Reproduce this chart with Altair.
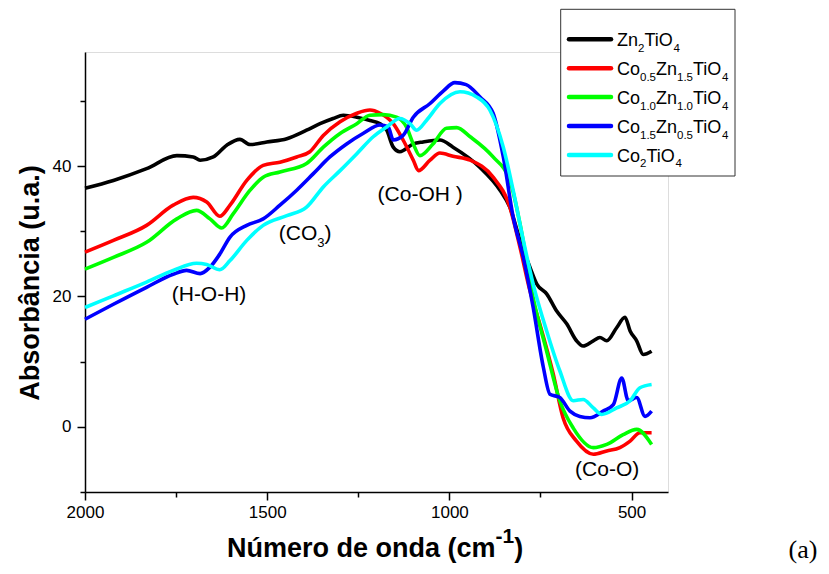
import altair as alt
import pandas as pd

# ---------------- data ----------------
series_names = ["Zn2TiO4", "Co0.5Zn1.5TiO4", "Co1.0Zn1.0TiO4", "Co1.5Zn0.5TiO4", "Co2TiO4"]
series_colors = ["#000000", "#ff0000", "#00ff00", "#0000ff", "#00ffff"]

zn2_wn = [2000, 1922, 1831, 1748, 1703, 1684, 1648, 1611, 1575, 1547, 1501, 1446, 1392, 1355, 1319, 1291,
          1254, 1218, 1190, 1172, 1154, 1136, 1099, 1072, 1026, 990, 916, 861, 834, 806, 779, 760, 733, 706,
          678, 651, 633, 605, 587, 568, 541, 518, 504, 486, 468, 445]
zn2_abs = [36.6, 37.8, 39.6, 41.6, 41.4, 40.9, 41.4, 43.2, 44.1, 43.3, 43.7, 44.2, 45.5, 46.5, 47.3, 47.8,
           47.5, 47.0, 46.5, 45.5, 42.9, 42.2, 43.4, 43.7, 44.0, 42.9, 39.8, 36.3, 33.7, 28.6, 24.5, 21.9,
           20.4, 17.8, 15.8, 13.2, 12.4, 13.2, 13.7, 13.2, 15.2, 16.8, 14.7, 13.2, 11.1, 11.6]

co05_wn = [2000, 1922, 1831, 1758, 1703, 1666, 1630, 1602, 1556, 1511, 1465, 1419, 1383, 1346, 1300, 1254,
           1218, 1190, 1154, 1127, 1099, 1085, 1053, 1026, 990, 943, 880, 834, 806, 779, 752, 715, 688, 651,
           605, 568, 532, 504, 477, 445]
co05_abs = [26.8, 28.6, 30.9, 34.0, 35.2, 34.5, 32.3, 34.0, 37.8, 40.1, 40.6, 41.4, 42.2, 44.7, 46.8, 48.1,
            48.6, 48.1, 46.5, 44.0, 40.9, 39.3, 40.9, 42.0, 41.5, 40.9, 38.3, 33.7, 27.5, 20.9, 15.8, 8.1,
            1.4, -2.2, -4.2, -3.7, -3.2, -2.2, -0.9, -0.9]

co10_wn = [2000, 1922, 1831, 1748, 1694, 1657, 1625, 1593, 1547, 1511, 1465, 1392, 1346, 1300, 1254, 1218,
           1182, 1145, 1118, 1099, 1081, 1045, 1008, 980, 943, 880, 834, 806, 770, 733, 697, 660, 605, 568,
           523, 486, 445]
co10_abs = [24.2, 26.0, 28.3, 31.9, 33.2, 31.9, 30.5, 32.7, 36.3, 38.3, 39.1, 40.4, 42.9, 45.0, 46.5, 47.8,
            47.9, 47.5, 46.0, 43.4, 41.6, 43.4, 45.8, 45.9, 44.5, 41.4, 37.8, 31.1, 19.8, 11.6, 4.0, -0.2,
            -3.2, -2.7, -1.2, -0.4, -2.7]

co15_wn = [2000, 1922, 1831, 1758, 1721, 1684, 1657, 1630, 1602, 1556, 1511, 1465, 1419, 1374, 1328, 1282,
           1237, 1190, 1168, 1154, 1127, 1099, 1053, 1017, 985, 954, 916, 880, 852, 825, 797, 770, 742, 724,
           697, 669, 642, 614, 578, 550, 527, 509, 486, 463, 445]
co15_abs = [16.5, 18.8, 21.4, 23.4, 24.0, 23.5, 24.5, 26.5, 29.1, 30.9, 31.9, 34.0, 36.3, 38.8, 41.4, 43.4,
            45.0, 46.3, 46.0, 44.0, 44.7, 47.5, 49.6, 51.5, 52.8, 52.5, 50.6, 48.1, 41.4, 32.2, 26.0, 18.3,
            9.1, 5.0, 4.5, 2.4, 1.6, 1.4, 2.4, 3.4, 7.5, 4.0, 4.5, 1.6, 2.4]

co2_wn = [2000, 1922, 1831, 1758, 1694, 1666, 1630, 1602, 1556, 1511, 1446, 1392, 1346, 1300, 1254, 1209,
          1172, 1136, 1108, 1090, 1063, 1026, 971, 925, 889, 852, 825, 797, 770, 733, 697, 660, 633, 605,
          582, 541, 504, 477, 445]
co2_abs = [18.3, 20.1, 22.2, 24.0, 25.1, 24.9, 24.1, 25.5, 28.6, 30.9, 32.4, 33.7, 36.8, 39.3, 41.9, 44.5,
           46.0, 47.3, 46.5, 45.5, 47.0, 49.6, 51.4, 50.6, 48.6, 42.9, 36.3, 28.6, 21.9, 14.7, 8.6, 4.0,
           4.2, 2.9, 1.9, 2.9, 4.0, 6.0, 6.5]

series_wn = [zn2_wn, co05_wn, co10_wn, co15_wn, co2_wn]
series_abs = [zn2_abs, co05_abs, co10_abs, co15_abs, co2_abs]

# legend labels split into (text, is_subscript)
legend_parts = [
    [("Zn", 0), ("2", 1), ("TiO", 0), ("4", 1)],
    [("Co", 0), ("0.5", 1), ("Zn", 0), ("1.5", 1), ("TiO", 0), ("4", 1)],
    [("Co", 0), ("1.0", 1), ("Zn", 0), ("1.0", 1), ("TiO", 0), ("4", 1)],
    [("Co", 0), ("1.5", 1), ("Zn", 0), ("0.5", 1), ("TiO", 0), ("4", 1)],
    [("Co", 0), ("2", 1), ("TiO", 0), ("4", 1)],
]

# band annotations: (wavenumber, absorbance at baseline, parts)
annotations = [
    (1762, 19.3, [("(H-O-H)", 0)]),
    (1468, 28.6, [("(CO", 0), ("3", 1), (")", 0)]),
    (1197, 34.7, [("(Co-OH )", 0)]),
    (655, -7.6, [("(Co-O)", 0)]),
]

x_ticks = [2000, 1750, 1500, 1250, 1000, 750, 500]
y_ticks = [-10, 0, 10, 20, 30, 40, 50]

# ---------------- layout ----------------
W, H = 583, 440
FONT = "Liberation Sans"

ARIAL = {'C': 722, 'o': 556, 'Z': 611, 'n': 556, 'T': 611, 'i': 222, 'O': 778, '.': 278,
         '(': 333, ')': 333, '-': 333, 'H': 722, ' ': 278}
for d in "0123456789":
    ARIAL[d] = 556


def text_width(s, size):
    return sum(ARIAL.get(ch, 556) for ch in s) * size / 1000.0


one_row = pd.DataFrame({"k": [0]})

x_scale = alt.Scale(domain=[400, 2000], reverse=True, nice=False, zero=False)
y_scale = alt.Scale(domain=[-10, 57.5], nice=False, zero=False)

axis_common = dict(
    domainColor="black", domainWidth=1.5, tickColor="black", tickWidth=1.5,
    labelFont=FONT, labelFontSize=17, labelColor="black", grid=False, title=None,
    labelFlush=False, labelOverlap=False,
)

layers = []
for i, (name, wn, ab, col) in enumerate(zip(series_names, series_wn, series_abs, series_colors)):
    df = pd.DataFrame({"wn": wn, "abs": ab, "series": name})
    enc = dict(
        x=alt.X("wn:Q", scale=x_scale,
                axis=alt.Axis(values=x_ticks, format="d",
                              labelExpr="datum.value % 500 === 0 ? datum.label : ''",
                              tickSize={"condition": {"test": "datum.value % 500 === 0", "value": 8}, "value": 5},
                              labelPadding=4, **axis_common)),
        y=alt.Y("abs:Q", scale=y_scale,
                axis=alt.Axis(values=y_ticks, format="d",
                              labelExpr="datum.value % 20 === 0 ? datum.label : ''",
                              tickSize={"condition": {"test": "datum.value % 20 === 0", "value": 8}, "value": 5},
                              labelPadding=6, **axis_common)),
        order=alt.Order("wn:Q", sort="descending"),
    )
    layers.append(
        alt.Chart(df).mark_line(color=col, strokeWidth=3.6, interpolate="monotone").encode(**enc)
    )

# annotations (data coordinates)
for wn, val, parts in annotations:
    df = pd.DataFrame({"wn": [wn], "abs": [val]})
    dx = 0.0
    for txt, sub in parts:
        size = 13 if sub else 21
        layers.append(
            alt.Chart(df).mark_text(text=txt, font=FONT, fontSize=size, align="left",
                                    baseline="alphabetic", dx=dx, dy=7 if sub else 0, color="black")
            .encode(x=alt.X("wn:Q", scale=x_scale), y=alt.Y("abs:Q", scale=y_scale))
        )
        dx += text_width(txt, size)

# legend box
LX0, LX1, LY0, LY1 = 475.7, 650, -42.7, 124
layers.append(
    alt.Chart(one_row).mark_rect(fill="white", stroke="#333333", strokeWidth=1)
    .encode(x=alt.value(LX0), x2=alt.value(LX1), y=alt.value(LY0), y2=alt.value(LY1))
)
entry_y0, entry_step = -12.7, 28.9
for i, (parts, col) in enumerate(zip(legend_parts, series_colors)):
    ly = entry_y0 + i * entry_step
    layers.append(
        alt.Chart(one_row).mark_rule(color=col, strokeWidth=4.5, strokeCap="round")
        .encode(x=alt.value(484), x2=alt.value(526), y=alt.value(ly))
    )
    px = 532.0
    for txt, sub in parts:
        size = 11.5 if sub else 18
        layers.append(
            alt.Chart(one_row).mark_text(text=txt, font=FONT, fontSize=size, align="left",
                                         baseline="alphabetic", color="black")
            .encode(x=alt.value(px), y=alt.value(ly + (12.5 if sub else 7)))
        )
        px += text_width(txt, size)

# axis titles
layers.append(
    alt.Chart(one_row).mark_text(text="Absorbância (u.a.)", font=FONT, fontSize=27, fontWeight="bold",
                                 angle=270, align="center", baseline="middle", color="black")
    .encode(x=alt.value(-54), y=alt.value(231))
)
x_title_parts = [("Número de onda (cm", 27, 0.0, 9.946), ("-1", 21, -14.0, 0.889), (")", 27, 0.0, 0.333)]
tx = 142.0
for txt, size, dy, em in x_title_parts:
    layers.append(
        alt.Chart(one_row).mark_text(text=txt, font=FONT, fontSize=size, fontWeight="bold",
                                     align="left", baseline="alphabetic", color="black")
        .encode(x=alt.value(tx), y=alt.value(505 + dy))
    )
    tx += em * size

# panel label
layers.append(
    alt.Chart(one_row).mark_text(text="(a)", font="Liberation Serif", fontSize=26,
                                 align="center", baseline="alphabetic", color="black")
    .encode(x=alt.value(718), y=alt.value(506))
)

chart = alt.layer(*layers).properties(
    width=W, height=H,
    autosize=alt.AutoSizeParams(type="none"),
    padding={"left": 77, "top": 44, "right": 150, "bottom": 74},
).configure_view(stroke=None).configure(background="white")

chart.save("out.html", embed_options={"renderer": "svg", "actions": False})
